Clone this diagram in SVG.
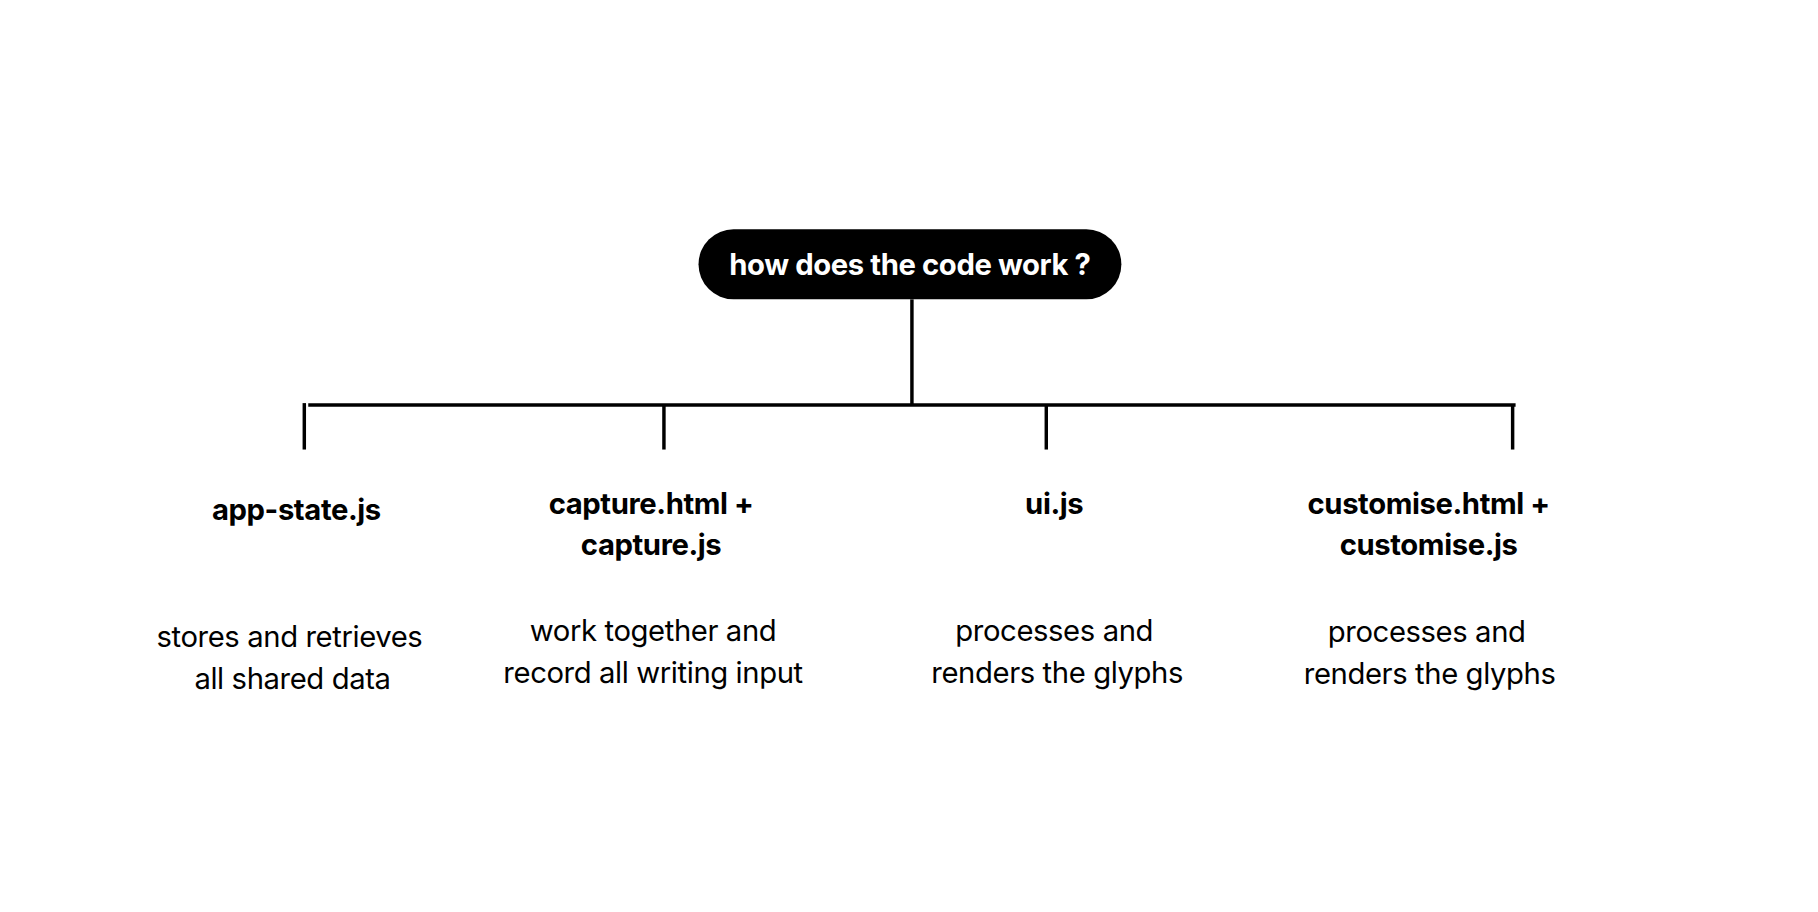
<svg xmlns="http://www.w3.org/2000/svg" width="1818" height="912" viewBox="0 0 1818 912">
<style>
.t{font-family:Inter,"Liberation Sans",sans-serif;font-size:29.6px;text-anchor:middle;fill:#000;letter-spacing:-0.4px}
.b{font-weight:700}
.ln{stroke:#000;stroke-width:3.5;fill:none}
</style>
<rect width="1818" height="912" fill="#fff"/>
<g transform="scale(0.988)">
<g id="connectors">
<line class="ln" x1="923" y1="303" x2="923" y2="410"/>
<line class="ln" x1="312" y1="410" x2="1534" y2="410"/>
<line class="ln" x1="308" y1="408" x2="308" y2="455"/>
<line class="ln" x1="672" y1="410" x2="672" y2="455"/>
<line class="ln" x1="1059" y1="410" x2="1059" y2="455"/>
<line class="ln" x1="1531" y1="410" x2="1531" y2="455"/>
</g>
<g id="root">
<rect x="707" y="232" width="428" height="71" rx="35.5" fill="#000"/>
<text class="t b" x="921" y="278" style="fill:#fff">how does the code work ?</text>
</g>
<g id="app-state">
<text class="t b" x="300" y="526">app-state.js</text>
<text class="t" x="293" y="655">stores and retrieves</text>
<text class="t" x="296" y="697">all shared data</text>
</g>
<g id="capture">
<text class="t b" x="659" y="520">capture.html +</text>
<text class="t b" x="659" y="562">capture.js</text>
<text class="t" x="661" y="649">work together and</text>
<text class="t" x="661" y="691">record all writing input</text>
</g>
<g id="ui">
<text class="t b" x="1067" y="520">ui.js</text>
<text class="t" x="1067" y="649">processes and</text>
<text class="t" x="1070" y="691">renders the glyphs</text>
</g>
<g id="customise">
<text class="t b" x="1446" y="520">customise.html +</text>
<text class="t b" x="1446" y="562">customise.js</text>
<text class="t" x="1444" y="650">processes and</text>
<text class="t" x="1447" y="692">renders the glyphs</text>
</g>
</g>
</svg>
